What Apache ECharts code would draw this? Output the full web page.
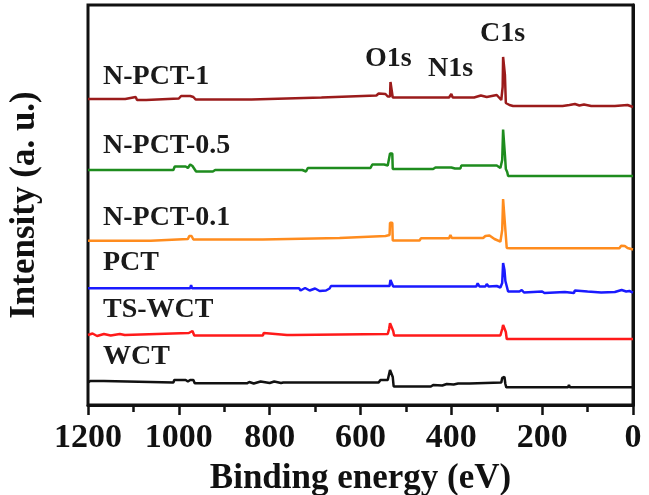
<!DOCTYPE html>
<html>
<head>
<meta charset="utf-8">
<script src="https://cdn.jsdelivr.net/npm/echarts@6/dist/echarts.min.js"></script>
<style>
  html, body { margin: 0; padding: 0; background: #fff; }
  #xps-chart { width: 649px; height: 495px; }
</style>
</head>
<body>
<div id="xps-chart"></div>
<script>
// survey spectra, [binding energy eV, stacked intensity a.u.]
var nPct1 = [[1200,306],[1190,306],[1118,306],[1115,308],[1095,308],[1092,305],[1072,305],[1070,306.5],[1000,306.5],[995,309],[975,309],[972,311],[968,308],[963,305.5],[840,305.5],[836,307.5],[686,307.5],[682,309.5],[565,309.5],[560,311.5],[545,311],[540,308.5],[535,308.5],[534,323],[530,323],[529,307.5],[405,307.5],[400,311],[397,307.5],[350,307.5],[347,309.5],[335,309.5],[333,308],[322,308],[320,310],[300,310],[296,308],[290,305],[287,318],[286,348],[283,348],[282,330],[280,302],[272,300],[264,299],[155,299],[152,300.5],[140,300],[128,301],[118,299.5],[108,300.5],[92,299],[40,299],[36,300],[12,300],[8,298.5],[0,298]];
var nPct05 = [[1200,235],[1196,233.5],[1190,235],[1012,235],[1009,238.5],[985,238.5],[980,237],[975,240.5],[970,239],[962,233.5],[925,233.5],[920,235],[728,235],[724,237],[720,233.5],[716,237],[578,237],[574,240.5],[548,240.5],[540,239.5],[536,239.5],[535,251.5],[530,251.5],[529,236],[440,236],[435,237.5],[400,237.5],[396,239],[392,236.5],[380,236.5],[378,239.5],[300,239.5],[292,237],[288,245],[286,275.5],[283,275.5],[282,250],[280,236],[277,233],[275,229],[0,229]];
var nPct01 = [[1200,164.3],[1062,164.3],[1060,166],[980,166],[977,169],[972,169],[968,165.5],[815,165.5],[812,167],[646,167],[643,169],[545,169],[542,170],[536,170],[535,182.3],[530,182.3],[529,164.5],[470,164.5],[467,166.7],[405,166.7],[402,170],[399,167],[330,167],[325,169],[316,169.5],[305,166],[292,163.3],[288,175],[286,206],[283,206],[281,175],[278,157],[270,156.7],[30,156.7],[26,159.3],[18,159],[12,157],[0,155.5]];
var pct = [[1200,116.7],[975,116.7],[973,120],[971,116.7],[735,116.7],[732,114.5],[722,117],[712,114.5],[700,116.5],[690,114],[676,114.5],[668,116.5],[665,119],[536,119],[534,125],[530,125],[528,118.5],[345,118.5],[342,121.7],[338,118.5],[325,118.5],[322,121],[318,118.5],[300,119],[292,117.5],[288,122],[286,142],[284,142],[283,135],[281,124],[279,122],[275,113.5],[250,113.5],[245,115],[240,112.5],[200,113.5],[195,112],[150,113],[130,112],[128,114.5],[100,113.5],[70,112.5],[40,113],[25,115],[15,113.5],[8,114],[0,112.3]];
var tsWct = [[1200,70],[1190,71.5],[1180,69],[1165,71],[1150,69.5],[1130,71],[1119,70],[1117,72],[978,72],[975,74],[970,74],[966,69.5],[815,69.5],[813,72],[811,70],[762,70],[759,71],[750,70],[746,71],[540,71],[537,76],[535,81.7],[531,81.7],[528,74],[526,69.5],[292,69.5],[288,76],[286,80],[282,80],[280,73],[278,66],[0,66]];
var wct = [[1200,22.5],[1195,24],[1165,24],[1162,22.5],[1012,22.5],[1010,25],[985,25],[980,23.5],[975,25],[968,25],[965,21.7],[850,21.7],[845,23],[835,21.5],[820,23.5],[800,22],[790,23.5],[775,22],[770,22.5],[560,22.5],[556,25],[540,25],[537,27],[535,35],[531,35],[529,28],[527,18.5],[445,18.5],[440,20],[420,19.5],[410,21],[395,20.5],[385,21.5],[360,21.5],[357,22.5],[290,22.5],[288,27],[286,28.5],[283,28],[281,21],[279,17.7],[143,17.7],[141,20],[139,17.7],[103,17.7],[101,19.5],[99,17.7],[23,17.7],[21,19.5],[19,17.7],[0,17.7]];

var sampleNames = ["N-PCT-1", "N-PCT-0.5", "N-PCT-0.1", "PCT", "TS-WCT", "WCT"];
var sampleData = [nPct1, nPct05, nPct01, pct, tsWct, wct];
var sampleColors = ["#9b1b1b", "#1e8c1e", "#ff8c1e", "#1a1aff", "#ff1a1a", "#111111"];
var peakNames = ["O1s", "N1s", "C1s"];
var xTicks = [0, 200, 400, 600, 800, 1000, 1200];

var serif = "Liberation Serif";
var myChart = echarts.init(document.getElementById("xps-chart"));

var series = [];
for (var i = 0; i < sampleData.length; i++) {
  series.push({
    name: sampleNames[i],
    type: "line",
    data: sampleData[i],
    symbol: "none",
    lineStyle: { color: sampleColors[i], width: 2.5 },
    silent: true
  });
}

// annotation texts (sample names on the left, peaks above the spectra)
var labelPos = [[103, 76.5], [103, 146], [103, 217.5], [103, 263], [103, 309.5], [103, 357]];
var peakPos = [[365, 58.5], [428, 68.5], [480, 33.5]];
var graphics = [];
sampleNames.forEach(function (n, i) {
  graphics.push({
    type: "text", left: labelPos[i][0], top: labelPos[i][1] - 14,
    style: { text: n, font: "bold 28px '" + serif + "'", fill: "#1a1a1a" }
  });
});
peakNames.forEach(function (n, i) {
  graphics.push({
    type: "text", left: peakPos[i][0], top: peakPos[i][1] - 14,
    style: { text: n, font: "bold 28px '" + serif + "'", fill: "#1a1a1a" }
  });
});

var option = {
  animation: false,
  backgroundColor: "#fff",
  grid: {
    left: 88, right: 16, top: 5, bottom: 90,
    show: true, borderColor: "#111", borderWidth: 3,
    outerBoundsMode: "none"
  },
  xAxis: {
    type: "value",
    inverse: true,
    min: xTicks[0],
    max: xTicks[xTicks.length - 1],
    interval: 200,
    name: "Binding energy (eV)",
    nameLocation: "middle",
    nameGap: 56,
    nameTextStyle: { fontFamily: serif, fontWeight: "bold", fontSize: 35, color: "#111" },
    axisLine: { lineStyle: { color: "#111", width: 3 } },
    axisTick: { inside: false, length: 10, lineStyle: { color: "#111", width: 2.5 } },
    minorTick: { show: true, splitNumber: 2, length: 7, lineStyle: { color: "#111", width: 2.5 } },
    axisLabel: {
      margin: 16, fontFamily: serif, fontWeight: "bold", fontSize: 34, color: "#111",
      formatter: function (v) { return String(v); }
    },
    splitLine: { show: false }
  },
  yAxis: {
    type: "value",
    min: 0,
    max: 400,
    name: "Intensity (a. u.)",
    nameLocation: "middle",
    nameGap: 46,
    nameTextStyle: { fontFamily: serif, fontWeight: "bold", fontSize: 35, color: "#111" },
    axisLine: { show: true, lineStyle: { color: "#111", width: 3 } },
    axisTick: { show: false },
    axisLabel: { show: false },
    splitLine: { show: false }
  },
  graphic: graphics,
  series: series
};
myChart.setOption(option);
</script>
</body>
</html>
